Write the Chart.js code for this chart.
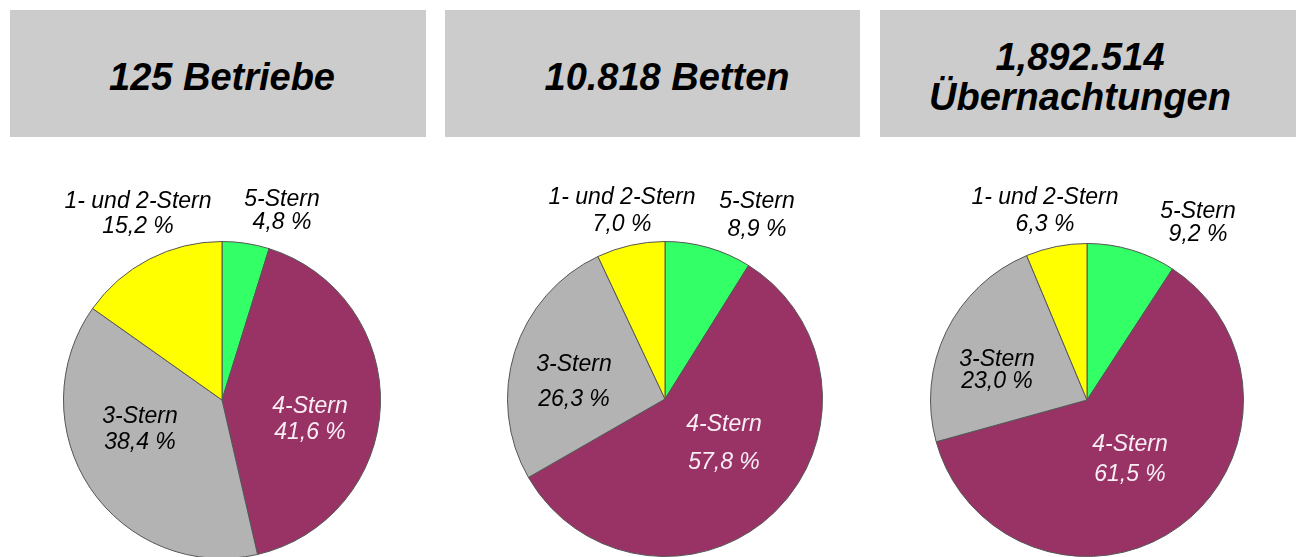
<!DOCTYPE html>
<html>
<head>
<meta charset="utf-8">
<script src="https://cdn.jsdelivr.net/npm/chart.js@4"></script>
<style>
  html, body { margin: 0; padding: 0; background: #fff; overflow: hidden; }
  body { width: 1298px; height: 557px; position: relative; }
  .box { position: absolute; top: 10px; height: 127px; background: #cccccc; }
  .ttl { position: absolute; font: italic bold 38px "Liberation Sans", Arial, sans-serif;
         color: #000; text-align: center; white-space: nowrap; transform: translate(-50%, -50%); line-height: 40px; }
  canvas { position: absolute; top: 150px; }
</style>
</head>
<body>
<div class="box" style="left:10px;width:416px"></div>
<div class="box" style="left:445px;width:415px"></div>
<div class="box" style="left:880px;width:416px"></div>
<div class="ttl" style="left:222px;top:77px">125 Betriebe</div>
<div class="ttl" style="left:667px;top:77px">10.818 Betten</div>
<div class="ttl" style="left:1080px;top:77px">1,892.514<br>Übernachtungen</div>

<canvas id="pie1" width="440" height="420" style="left:0px"></canvas>
<canvas id="pie2" width="440" height="420" style="left:440px"></canvas>
<canvas id="pie3" width="428" height="420" style="left:870px"></canvas>

<script>
// categories, clockwise from 12 o'clock
const categories = ['5-Stern', '4-Stern', '3-Stern', '1- und 2-Stern'];
const betriebe = [4.8, 41.6, 38.4, 15.2];
const betten = [8.9, 57.8, 26.3, 7.0];
const uebernachtungen = [9.2, 61.5, 23.0, 6.3];

const colors = ['#33ff66', '#993366', '#b3b3b3', '#ffff00'];
const textColors = ['#000', '#f8eef4', '#000', '#000'];

// pie centre / radius in page coords, and label offsets [dx, dy line1, dy line2] from the centre
const pies = [
  { id: 'pie1', left: 0, width: 440, cx: 222, cy: 400, r: 159, data: betriebe,
    labels: [[60, -200, -177], [88, 7, 33], [-82, 17, 43], [-84, -198, -173]] },
  { id: 'pie2', left: 440, width: 440, cx: 665, cy: 399, r: 158, data: betten,
    labels: [[92, -197, -169], [59, 26, 64], [-91, -34, 1], [-43, -201, -174]] },
  { id: 'pie3', left: 870, width: 428, cx: 1087, cy: 400, r: 157, data: uebernachtungen,
    labels: [[111, -188, -165], [43, 45, 75], [-90, -40, -18], [-42, -202, -175]] }
];

const labelPlugin = {
  id: 'sliceLabels',
  afterDraw(chart) {
    const ctx = chart.ctx;
    const arc = chart.getDatasetMeta(0).data[0];
    const vals = chart.data.datasets[0].data;
    const offs = chart.options.plugins.sliceLabels.offsets;
    ctx.save();
    ctx.font = 'italic 23px "Liberation Sans", Arial, sans-serif';
    ctx.textAlign = 'center';
    ctx.textBaseline = 'middle';
    vals.forEach((v, i) => {
      const o = offs[i];
      ctx.fillStyle = textColors[i];
      ctx.fillText(chart.data.labels[i], arc.x + o[0], arc.y + o[1]);
      ctx.fillText(v.toFixed(1).replace('.', ',') + ' %', arc.x + o[0], arc.y + o[2]);
    });
    ctx.restore();
  }
};

pies.forEach(p => {
  const top = 150, h = 420;
  new Chart(document.getElementById(p.id), {
    type: 'pie',
    data: {
      labels: categories,
      datasets: [{
        data: p.data,
        backgroundColor: colors,
        borderColor: '#555',
        borderWidth: 1,
        hoverOffset: 0
      }]
    },
    options: {
      responsive: false,
      animation: false,
      events: [],
      layout: {
        padding: {
          left: p.cx - p.r - p.left,
          right: p.left + p.width - (p.cx + p.r),
          top: p.cy - p.r - top,
          bottom: top + h - (p.cy + p.r)
        }
      },
      plugins: {
        legend: { display: false },
        tooltip: { enabled: false },
        sliceLabels: { offsets: p.labels }
      }
    },
    plugins: [labelPlugin]
  });
});
</script>
</body>
</html>
